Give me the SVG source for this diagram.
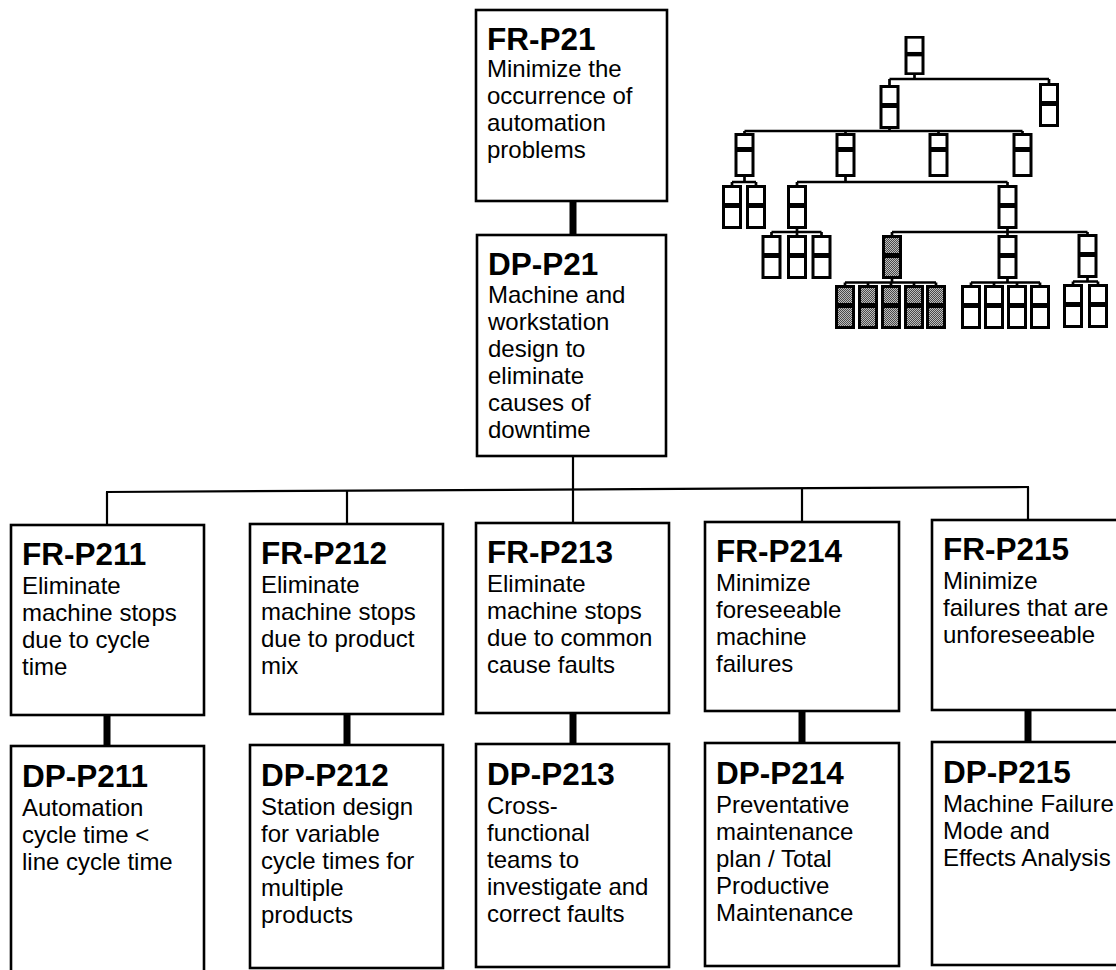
<svg xmlns="http://www.w3.org/2000/svg" xmlns:xlink="http://www.w3.org/1999/xlink" width="1116" height="970" viewBox="0 0 1116 970">
<style>
.box{fill:#fff;stroke:#000;stroke-width:2.6}
.t{font-family:"Liberation Sans",Arial,sans-serif;font-size:31.5px;font-weight:bold;fill:#000}
.b{font-family:"Liberation Sans",Arial,sans-serif;font-size:24px;fill:#000}
.thin{stroke:#000;stroke-width:2.2;fill:none}
.thick{stroke:#000;stroke-width:7;fill:none}
.mb{stroke:#000;stroke-width:2.7;fill:none}
.mo{fill:#000}
.mi{fill:#fff}
.ms{fill:url(#dots)}
</style>
<defs>
<pattern id="dots" width="2" height="2" patternUnits="userSpaceOnUse">
<rect width="2" height="2" fill="#bdbdbd"/>
<rect width="1" height="1" fill="#4a4a4a"/>
<rect x="1" y="1" width="1" height="1" fill="#4a4a4a"/>
</pattern>
<g id="n">
<rect class="mo" x="0" y="0" width="20" height="44"/>
<rect class="mi" x="3" y="3" width="14" height="15"/>
<rect class="mi" x="3" y="23" width="14" height="18"/>
</g>
<g id="n2">
<rect class="mo" x="0" y="0" width="20" height="44"/>
<rect class="mi" x="3" y="3" width="14" height="11"/>
<rect class="mi" x="3" y="19" width="14" height="22"/>
</g>
<g id="ns">
<rect class="mo" x="0" y="0" width="20" height="44"/>
<rect class="ms" x="3" y="3" width="14" height="15"/>
<rect class="ms" x="3" y="23" width="14" height="18"/>
</g>
</defs>
<rect width="1116" height="970" fill="#fff"/>

<g id="connectors">
<line class="thick" x1="573" y1="201" x2="573" y2="235"/>
<line class="thin" x1="573" y1="456" x2="573" y2="490"/>
<line class="thin" x1="106" y1="492" x2="1029" y2="487"/>
<line class="thin" x1="107" y1="492" x2="107" y2="525"/>
<line class="thin" x1="347" y1="490.7" x2="347" y2="524"/>
<line class="thin" x1="573" y1="489.5" x2="573" y2="523"/>
<line class="thin" x1="802" y1="488.2" x2="802" y2="522"/>
<line class="thin" x1="1028" y1="487" x2="1028" y2="520"/>
<line class="thick" x1="107" y1="715" x2="107" y2="746"/>
<line class="thick" x1="347" y1="714" x2="347" y2="745"/>
<line class="thick" x1="573" y1="713" x2="573" y2="744"/>
<line class="thick" x1="802" y1="711" x2="802" y2="743"/>
<line class="thick" x1="1028" y1="710" x2="1028" y2="742"/>
</g>

<g id="FR-P21">
<rect class="box" x="476" y="10" width="191" height="191"/>
<text class="t" x="487" y="50">FR-P21</text>
<text class="b"><tspan x="487" y="77">Minimize the</tspan><tspan x="487" y="104">occurrence of</tspan><tspan x="487" y="131">automation</tspan><tspan x="487" y="158">problems</tspan></text>
</g>
<g id="DP-P21">
<rect class="box" x="477" y="235" width="189" height="221"/>
<text class="t" x="488" y="275">DP-P21</text>
<text class="b"><tspan x="488" y="303">Machine and</tspan><tspan x="488" y="330">workstation</tspan><tspan x="488" y="357">design to</tspan><tspan x="488" y="384">eliminate</tspan><tspan x="488" y="411">causes of</tspan><tspan x="488" y="438">downtime</tspan></text>
</g>

<g id="FR-P211">
<rect class="box" x="11" y="525" width="193" height="190"/>
<text class="t" x="22" y="565">FR-P211</text>
<text class="b"><tspan x="22" y="594">Eliminate</tspan><tspan x="22" y="621">machine stops</tspan><tspan x="22" y="648">due to cycle</tspan><tspan x="22" y="675">time</tspan></text>
</g>
<g id="FR-P212">
<rect class="box" x="250" y="524" width="193" height="190"/>
<text class="t" x="261" y="564">FR-P212</text>
<text class="b"><tspan x="261" y="593">Eliminate</tspan><tspan x="261" y="620">machine stops</tspan><tspan x="261" y="647">due to product</tspan><tspan x="261" y="674">mix</tspan></text>
</g>
<g id="FR-P213">
<rect class="box" x="476" y="523" width="193" height="190"/>
<text class="t" x="487" y="563">FR-P213</text>
<text class="b"><tspan x="487" y="592">Eliminate</tspan><tspan x="487" y="619">machine stops</tspan><tspan x="487" y="646">due to common</tspan><tspan x="487" y="673">cause faults</tspan></text>
</g>
<g id="FR-P214">
<rect class="box" x="705" y="522" width="194" height="189"/>
<text class="t" x="716" y="562">FR-P214</text>
<text class="b"><tspan x="716" y="591">Minimize</tspan><tspan x="716" y="618">foreseeable</tspan><tspan x="716" y="645">machine</tspan><tspan x="716" y="672">failures</tspan></text>
</g>
<g id="FR-P215">
<rect class="box" x="932" y="520" width="200" height="190"/>
<text class="t" x="943" y="560">FR-P215</text>
<text class="b"><tspan x="943" y="589">Minimize</tspan><tspan x="943" y="616">failures that are</tspan><tspan x="943" y="643">unforeseeable</tspan></text>
</g>

<g id="DP-P211">
<rect class="box" x="11" y="746" width="193" height="240"/>
<text class="t" x="22" y="787">DP-P211</text>
<text class="b"><tspan x="22" y="816">Automation</tspan><tspan x="22" y="843">cycle time &lt;</tspan><tspan x="22" y="870">line cycle time</tspan></text>
</g>
<g id="DP-P212">
<rect class="box" x="250" y="745" width="193" height="223"/>
<text class="t" x="261" y="786">DP-P212</text>
<text class="b"><tspan x="261" y="815">Station design</tspan><tspan x="261" y="842">for variable</tspan><tspan x="261" y="869">cycle times for</tspan><tspan x="261" y="896">multiple</tspan><tspan x="261" y="923">products</tspan></text>
</g>
<g id="DP-P213">
<rect class="box" x="476" y="744" width="193" height="223"/>
<text class="t" x="487" y="785">DP-P213</text>
<text class="b"><tspan x="487" y="814">Cross-</tspan><tspan x="487" y="841">functional</tspan><tspan x="487" y="868">teams to</tspan><tspan x="487" y="895">investigate and</tspan><tspan x="487" y="922">correct faults</tspan></text>
</g>
<g id="DP-P214">
<rect class="box" x="705" y="743" width="194" height="223"/>
<text class="t" x="716" y="784">DP-P214</text>
<text class="b"><tspan x="716" y="813">Preventative</tspan><tspan x="716" y="840">maintenance</tspan><tspan x="716" y="867">plan / Total</tspan><tspan x="716" y="894">Productive</tspan><tspan x="716" y="921">Maintenance</tspan></text>
</g>
<g id="DP-P215">
<rect class="box" x="932" y="742" width="200" height="223"/>
<text class="t" x="943" y="783">DP-P215</text>
<text class="b"><tspan x="943" y="812">Machine Failure</tspan><tspan x="943" y="839">Mode and</tspan><tspan x="943" y="866">Effects Analysis</tspan></text>
</g>

<g id="mini-tree">
<g id="mini-connectors">
<path class="mb" d="M914.5,75V79M889.5,79H1049M889.5,79V85M1049,79V83"/>
<path class="mb" d="M889.5,129V131M744.5,131H1022.5M744.5,131V133M845.5,131V133M938.5,131V133M1022.5,131V133"/>
<path class="mb" d="M744.5,177V182M732,182H756M732,182V185M756,182V185"/>
<path class="mb" d="M845.5,177V182M797,182H1007.5M797,182V185M1007.5,182V185"/>
<path class="mb" d="M797,229V232M771.5,232H821.5M771.5,232V235M797,232V235M821.5,232V235"/>
<path class="mb" d="M1007.5,229V232M892,232H1087.5M892,232V235M1007.5,232V235M1087.5,232V234"/>
<path class="mb" d="M892,279V282.5M845,282.5H936M845,282.5V285M868,282.5V285M891,282.5V285M914,282.5V285M936,282.5V285"/>
<path class="mb" d="M1007.5,279V282.5M971,282.5H1040M971,282.5V285M994,282.5V285M1017,282.5V285M1040,282.5V285"/>
<path class="mb" d="M1087.5,278V281.5M1073,281.5H1098M1073,281.5V284M1098,281.5V284"/>
</g>
<use xlink:href="#n" transform="translate(904.5,36) scale(1,0.886)"/>
<use xlink:href="#n" x="879.5" y="85"/>
<use xlink:href="#n" x="1039" y="83"/>
<use xlink:href="#n2" x="734.5" y="133"/>
<use xlink:href="#n2" x="835.5" y="133"/>
<use xlink:href="#n2" x="928.5" y="133"/>
<use xlink:href="#n2" x="1012.5" y="133"/>
<use xlink:href="#n" x="722" y="185"/>
<use xlink:href="#n" x="746" y="185"/>
<use xlink:href="#n" x="787" y="185"/>
<use xlink:href="#n" x="997.5" y="185"/>
<use xlink:href="#n" x="761.5" y="235"/>
<use xlink:href="#n" x="787" y="235"/>
<use xlink:href="#n" x="811.5" y="235"/>
<use xlink:href="#ns" x="882" y="235"/>
<use xlink:href="#n" x="997.5" y="235"/>
<use xlink:href="#n" x="1077.5" y="234"/>
<use xlink:href="#ns" x="835" y="285"/>
<use xlink:href="#ns" x="858" y="285"/>
<use xlink:href="#ns" x="881" y="285"/>
<use xlink:href="#ns" x="904" y="285"/>
<use xlink:href="#ns" x="926" y="285"/>
<use xlink:href="#n" x="961" y="285"/>
<use xlink:href="#n" x="984" y="285"/>
<use xlink:href="#n" x="1007" y="285"/>
<use xlink:href="#n" x="1030" y="285"/>
<use xlink:href="#n" x="1063" y="284"/>
<use xlink:href="#n" x="1088" y="284"/>
</g>
</svg>
